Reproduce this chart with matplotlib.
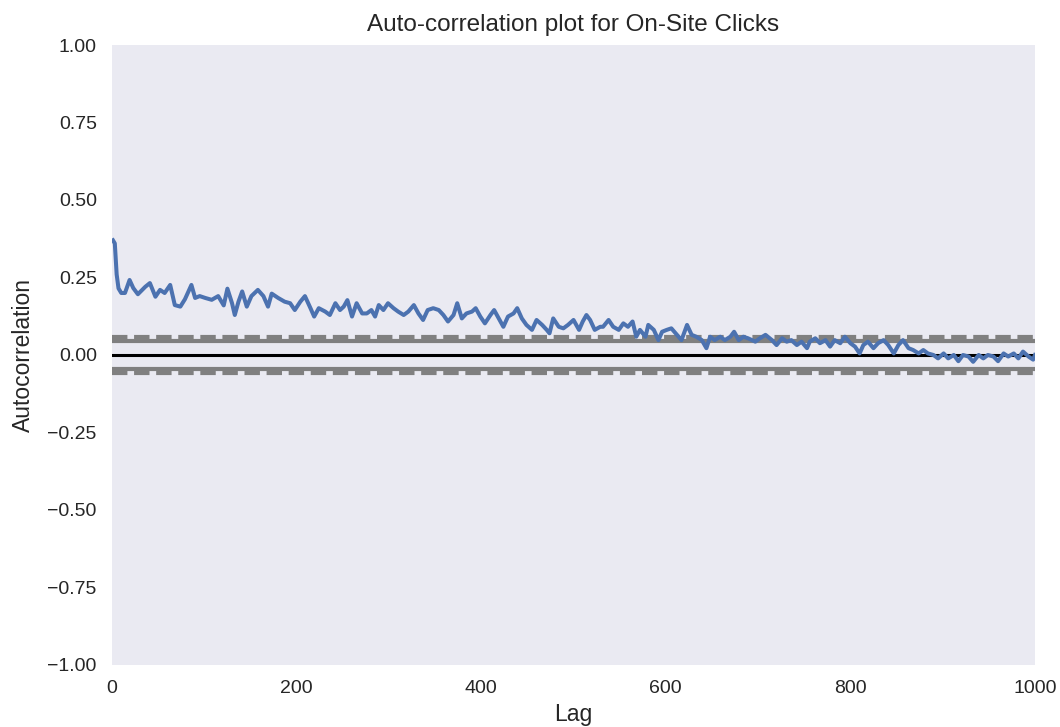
import numpy as np
import matplotlib
matplotlib.use("Agg")
import matplotlib.pyplot as plt

# autocorrelation of the click series, sampled along the lag axis
lags = [1, 3, 5, 7, 10, 14, 19, 23, 28, 36, 41, 47, 52, 57, 63, 68, 74, 79, 86, 90,
        95, 101, 108, 115, 121, 125, 130, 133, 137, 141, 146, 151, 158, 164, 169, 173,
        180, 187, 193, 198, 204, 209, 215, 219, 224, 231, 236, 242, 247,
        251, 255, 260, 265, 271, 276, 281, 285, 289, 294, 299, 305, 310, 316, 321, 327,
        332, 337, 342, 348, 354, 359, 364, 370, 374, 379, 384, 390, 394, 399, 404, 410,
        414, 419, 424, 429, 435, 439, 444, 449, 455, 460, 466, 471, 474, 478, 484, 489,
        494, 500,
        506, 510, 514, 518, 523, 529, 532, 538, 543, 549, 554, 559, 564, 568, 572, 578,
        581, 587, 592, 596, 601, 606, 612, 617, 623, 628, 633, 639, 644, 648, 653, 659,
        664, 670, 674, 679, 684, 689, 697, 702, 708, 715, 720, 726, 731, 736, 742, 747,
        753,
        756, 762, 767, 773, 778, 783, 789, 794, 800, 805, 810, 814, 819, 825, 830, 836,
        841, 847, 852, 857, 863, 868, 874, 879, 884, 890, 895, 901, 906, 912, 917, 922,
        928, 933, 939, 944, 949, 955, 960, 966, 971, 977, 982, 987, 993, 998, 1000]

acf = [0.370, 0.360, 0.260, 0.215, 0.200, 0.200, 0.242, 0.216, 0.196, 0.220, 0.232,
       0.188, 0.210, 0.200, 0.226, 0.161, 0.156, 0.180, 0.226, 0.184, 0.190, 0.184,
       0.178, 0.190, 0.160, 0.214, 0.167, 0.129, 0.172, 0.205, 0.156, 0.190, 0.210,
       0.190, 0.156, 0.198, 0.184, 0.172, 0.167, 0.145, 0.172, 0.190, 0.151, 0.124,
       0.151, 0.140, 0.129, 0.167, 0.145,
       0.156, 0.177, 0.124, 0.167, 0.134, 0.134, 0.145, 0.124, 0.161, 0.145, 0.167,
       0.151, 0.140, 0.129, 0.140, 0.161, 0.134, 0.113, 0.145, 0.151, 0.145, 0.129,
       0.108, 0.129, 0.167, 0.118, 0.134, 0.140, 0.151, 0.124, 0.102, 0.129, 0.145,
       0.118, 0.091, 0.124, 0.134, 0.151, 0.118, 0.097, 0.081, 0.113, 0.097, 0.081,
       0.070, 0.118, 0.091, 0.086, 0.097, 0.113,
       0.081, 0.108, 0.129, 0.113, 0.081, 0.091, 0.091, 0.113, 0.091, 0.081, 0.102,
       0.091, 0.108, 0.059, 0.081, 0.059, 0.097, 0.081, 0.048, 0.075, 0.081, 0.086,
       0.065, 0.048, 0.097, 0.065, 0.059, 0.048, 0.022, 0.059, 0.048, 0.059, 0.048,
       0.059, 0.075, 0.048, 0.059, 0.054, 0.043, 0.054, 0.065, 0.048, 0.032, 0.054,
       0.043, 0.048, 0.032, 0.043, 0.022,
       0.043, 0.054, 0.038, 0.048, 0.027, 0.048, 0.038, 0.059, 0.038, 0.027, 0.005,
       0.032, 0.043, 0.022, 0.038, 0.048, 0.032, 0.005, 0.032, 0.048, 0.022, 0.016,
       0.005, 0.016, 0.005, 0.000, -0.011, 0.005, -0.011, 0.000, -0.020, 0.000,
       -0.005, -0.022, 0.000, -0.011, 0.000, -0.005, -0.020, 0.005, -0.005, 0.005,
       -0.011, 0.011, -0.005, -0.015, 0.000]

n_obs = 2000
y_ticks = [-1.0, -0.75, -0.5, -0.25, 0.0, 0.25, 0.5, 0.75, 1.0]
x_ticks = [0, 200, 400, 600, 800, 1000]

plt.rcParams['font.family'] = ['Liberation Sans', 'DejaVu Sans']
text_color = '#262626'

fig = plt.figure(figsize=(10.6, 7.27), dpi=100)
ax = fig.add_axes([0.1057, 0.0853, 0.8707, 0.8528])
ax.set_facecolor('#EAEAF2')
for spine in ax.spines.values():
    spine.set_visible(False)

# confidence bands the same way pandas.plotting.autocorrelation_plot draws them
z95 = 1.959963984540054
z99 = 2.5758293035489
ax.axhline(y=z99 / np.sqrt(n_obs), linestyle='--', color='grey', lw=3)
ax.axhline(y=z95 / np.sqrt(n_obs), color='grey', lw=3)
ax.axhline(y=0.0, color='black', lw=2.2)
ax.axhline(y=-z95 / np.sqrt(n_obs), color='grey', lw=3)
ax.axhline(y=-z99 / np.sqrt(n_obs), linestyle='--', color='grey', lw=3)

ax.plot(lags, acf, color='#4C72B0', lw=2.9)

ax.set_xlim(0, 1000)
ax.set_ylim(-1.0, 1.0)
ax.set_xticks(x_ticks)
ax.set_yticks(y_ticks)
ax.set_yticklabels([f'{v:.2f}'.replace('-', '\u2212') for v in y_ticks])
ax.tick_params(axis='both', length=0, labelsize=14, colors=text_color, pad=11)

ax.set_xlabel('Lag', fontsize=16.5, color=text_color, labelpad=4)
ax.set_ylabel('Autocorrelation', fontsize=16.5, color=text_color, labelpad=9)
ax.set_title('Auto-correlation plot for On-Site Clicks', fontsize=17.5,
             color=text_color, pad=10)

fig.savefig('out.png', dpi=100)
